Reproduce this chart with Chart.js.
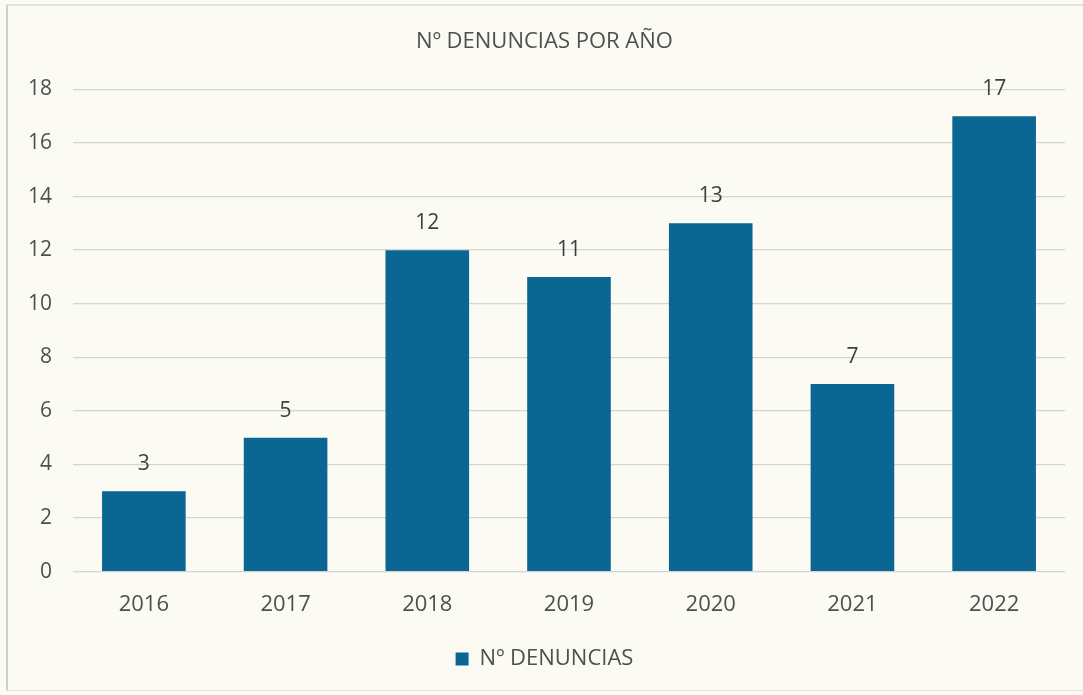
<!DOCTYPE html>
<html>
<head>
<meta charset="utf-8">
<script src="https://cdn.jsdelivr.net/npm/chart.js@4.4.1/dist/chart.umd.min.js"></script>
<style>
  html, body { margin: 0; padding: 0; background: #fbfbf4; }
  .wrap { position: relative; width: 1083px; height: 695px; }
  .frame {
    position: absolute; left: 6px; top: 4px; width: 1090px; height: 684px;
    border-left: 2px solid #cfcfcb; border-top: 2px solid #e2e2de; border-bottom: 1px solid #e6e6e2;
  }
</style>
</head>
<body>
<div class="wrap">
  <div class="frame"></div>
  <canvas id="chart"></canvas>
</div>
<script>
const years = ['2016', '2017', '2018', '2019', '2020', '2021', '2022']
const denuncias = [3, 5, 12, 11, 13, 7, 17]
const yTicks = [0, 2, 4, 6, 8, 10, 12, 14, 16, 18]

const FONT = "'Open Sans', 'Noto Sans', sans-serif"
const GREY = '#4f4f4f'

// draws the value above each bar
const valueLabels = {
  id: 'valueLabels',
  afterDatasetsDraw(chart) {
    const ctx = chart.ctx
    const meta = chart.getDatasetMeta(0)
    ctx.save()
    ctx.font = '21px ' + FONT
    ctx.fillStyle = '#3f3f3f'
    ctx.textAlign = 'center'
    ctx.textBaseline = 'middle'
    meta.data.forEach((bar, i) => {
      ctx.fillText(String(chart.data.datasets[0].data[i]), bar.x, bar.y - 27)
    })
    ctx.restore()
  },
}

new Chart(document.getElementById('chart'), {
  type: 'bar',
  data: {
    labels: years,
    datasets: [
      {
        label: 'Nº DENUNCIAS',
        data: denuncias,
        backgroundColor: '#0b6694',
        categoryPercentage: 1,
        barPercentage: 0.59,
      },
    ],
  },
  options: {
    responsive: true,
    maintainAspectRatio: false,
    animation: false,
    layout: { padding: { left: 24, right: 18, top: 0, bottom: 15 } },
    scales: {
      x: {
        grid: { display: false, drawTicks: false },
        border: { display: false },
        ticks: { color: GREY, font: { family: FONT, size: 22 }, padding: 20 },
      },
      y: {
        min: 0,
        max: 18,
        afterBuildTicks: (axis) => {
          axis.ticks = yTicks.map((v) => ({ value: v }))
        },
        afterFit: (axis) => {
          axis.width = 49
        },
        grid: { color: '#d4d4d0', lineWidth: 1.3, drawTicks: false },
        border: { display: false },
        ticks: { color: GREY, font: { family: FONT, size: 21 }, padding: 21 },
      },
    },
    plugins: {
      title: {
        display: true,
        text: 'Nº DENUNCIAS POR AÑO',
        color: GREY,
        font: { family: FONT, size: 22, weight: 'normal' },
        padding: { top: 29, bottom: 34 },
      },
      legend: {
        position: 'bottom',
        labels: {
          color: GREY,
          font: { family: FONT, size: 22 },
          boxWidth: 13,
          boxHeight: 13,
          padding: 10,
        },
      },
      tooltip: { enabled: false },
    },
  },
  plugins: [valueLabels],
})
</script>
</body>
</html>
